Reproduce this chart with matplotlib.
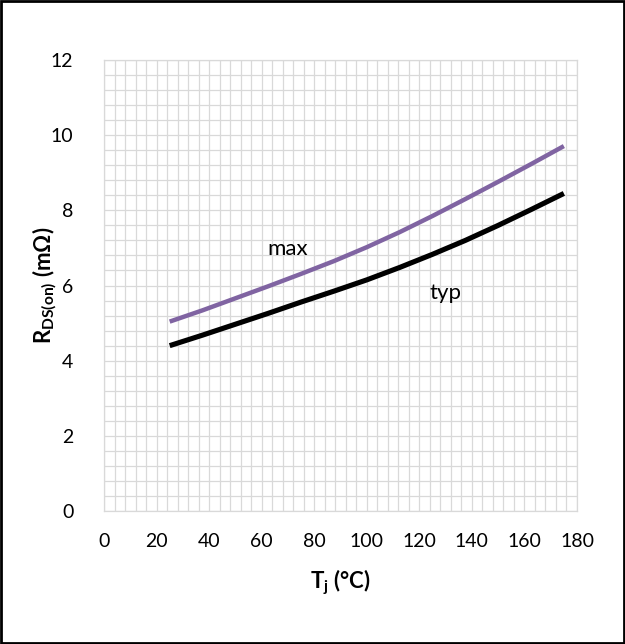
import matplotlib.pyplot as plt
from matplotlib.ticker import MultipleLocator
from matplotlib.patches import Rectangle
from matplotlib.font_manager import FontProperties

plt.rcParams['font.family'] = ['Lato', 'DejaVu Sans']
plt.rcParams['mathtext.fontset'] = 'custom'
plt.rcParams['mathtext.rm'] = 'Lato'
plt.rcParams['mathtext.bf'] = 'Lato:bold'

# data
tj = [25, 37.5, 50, 62.5, 75, 87.5, 100, 112.5, 125, 137.5, 150, 162.5, 175]
r_typ = [4.40, 4.68, 4.97, 5.26, 5.56, 5.85, 6.15, 6.48, 6.83, 7.20, 7.60, 8.02, 8.45]
r_max = [5.04, 5.34, 5.66, 5.98, 6.31, 6.65, 7.02, 7.42, 7.85, 8.30, 8.76, 9.23, 9.71]

grille = '#D9D9D9'
gras = FontProperties(family='Lato', weight='bold', size=16)

fig = plt.figure(figsize=(6.25, 6.44), dpi=100)
ax = fig.add_axes([0.1664, 0.2065, 0.7568, 0.7003])

ax.plot(tj, r_max, color='#8064A2', linewidth=3.2, solid_capstyle='butt', zorder=3)
ax.plot(tj, r_typ, color='black', linewidth=3.7, solid_capstyle='butt', zorder=3)

ax.set_xlim(0, 180)
ax.set_ylim(0, 12)
ax.xaxis.set_major_locator(MultipleLocator(20))
ax.xaxis.set_minor_locator(MultipleLocator(4))
ax.yaxis.set_major_locator(MultipleLocator(2))
ax.yaxis.set_minor_locator(MultipleLocator(0.4))
ax.grid(True, which='both', color=grille, linewidth=0.9)
ax.set_axisbelow(True)
ax.tick_params(which='both', length=0, labelsize=14)
ax.tick_params(axis='y', pad=22)
ax.tick_params(axis='x', pad=16)
for s in ax.spines.values():
    s.set_color(grille)
    s.set_linewidth(0.9)

ax.text(70, 6.97, 'max', fontsize=16, ha='center', va='center')
ax.text(130, 5.8, 'typ', fontsize=16, ha='center', va='center')

ax.set_xlabel(r'T$_\mathbf{j}$ (°C)', fontproperties=gras, va='center')
ax.xaxis.set_label_coords(0.5, -0.157)
ax.set_ylabel(r'R$_\mathbf{DS(on)}$ (mΩ)', fontproperties=gras, va='center')
ax.yaxis.set_label_coords(-0.125, 0.5)

fig.patches.append(Rectangle((0.002, 0.002), 0.996, 0.996, transform=fig.transFigure,
                             fill=False, edgecolor='black', linewidth=2))

fig.savefig('out.png', dpi=100)
